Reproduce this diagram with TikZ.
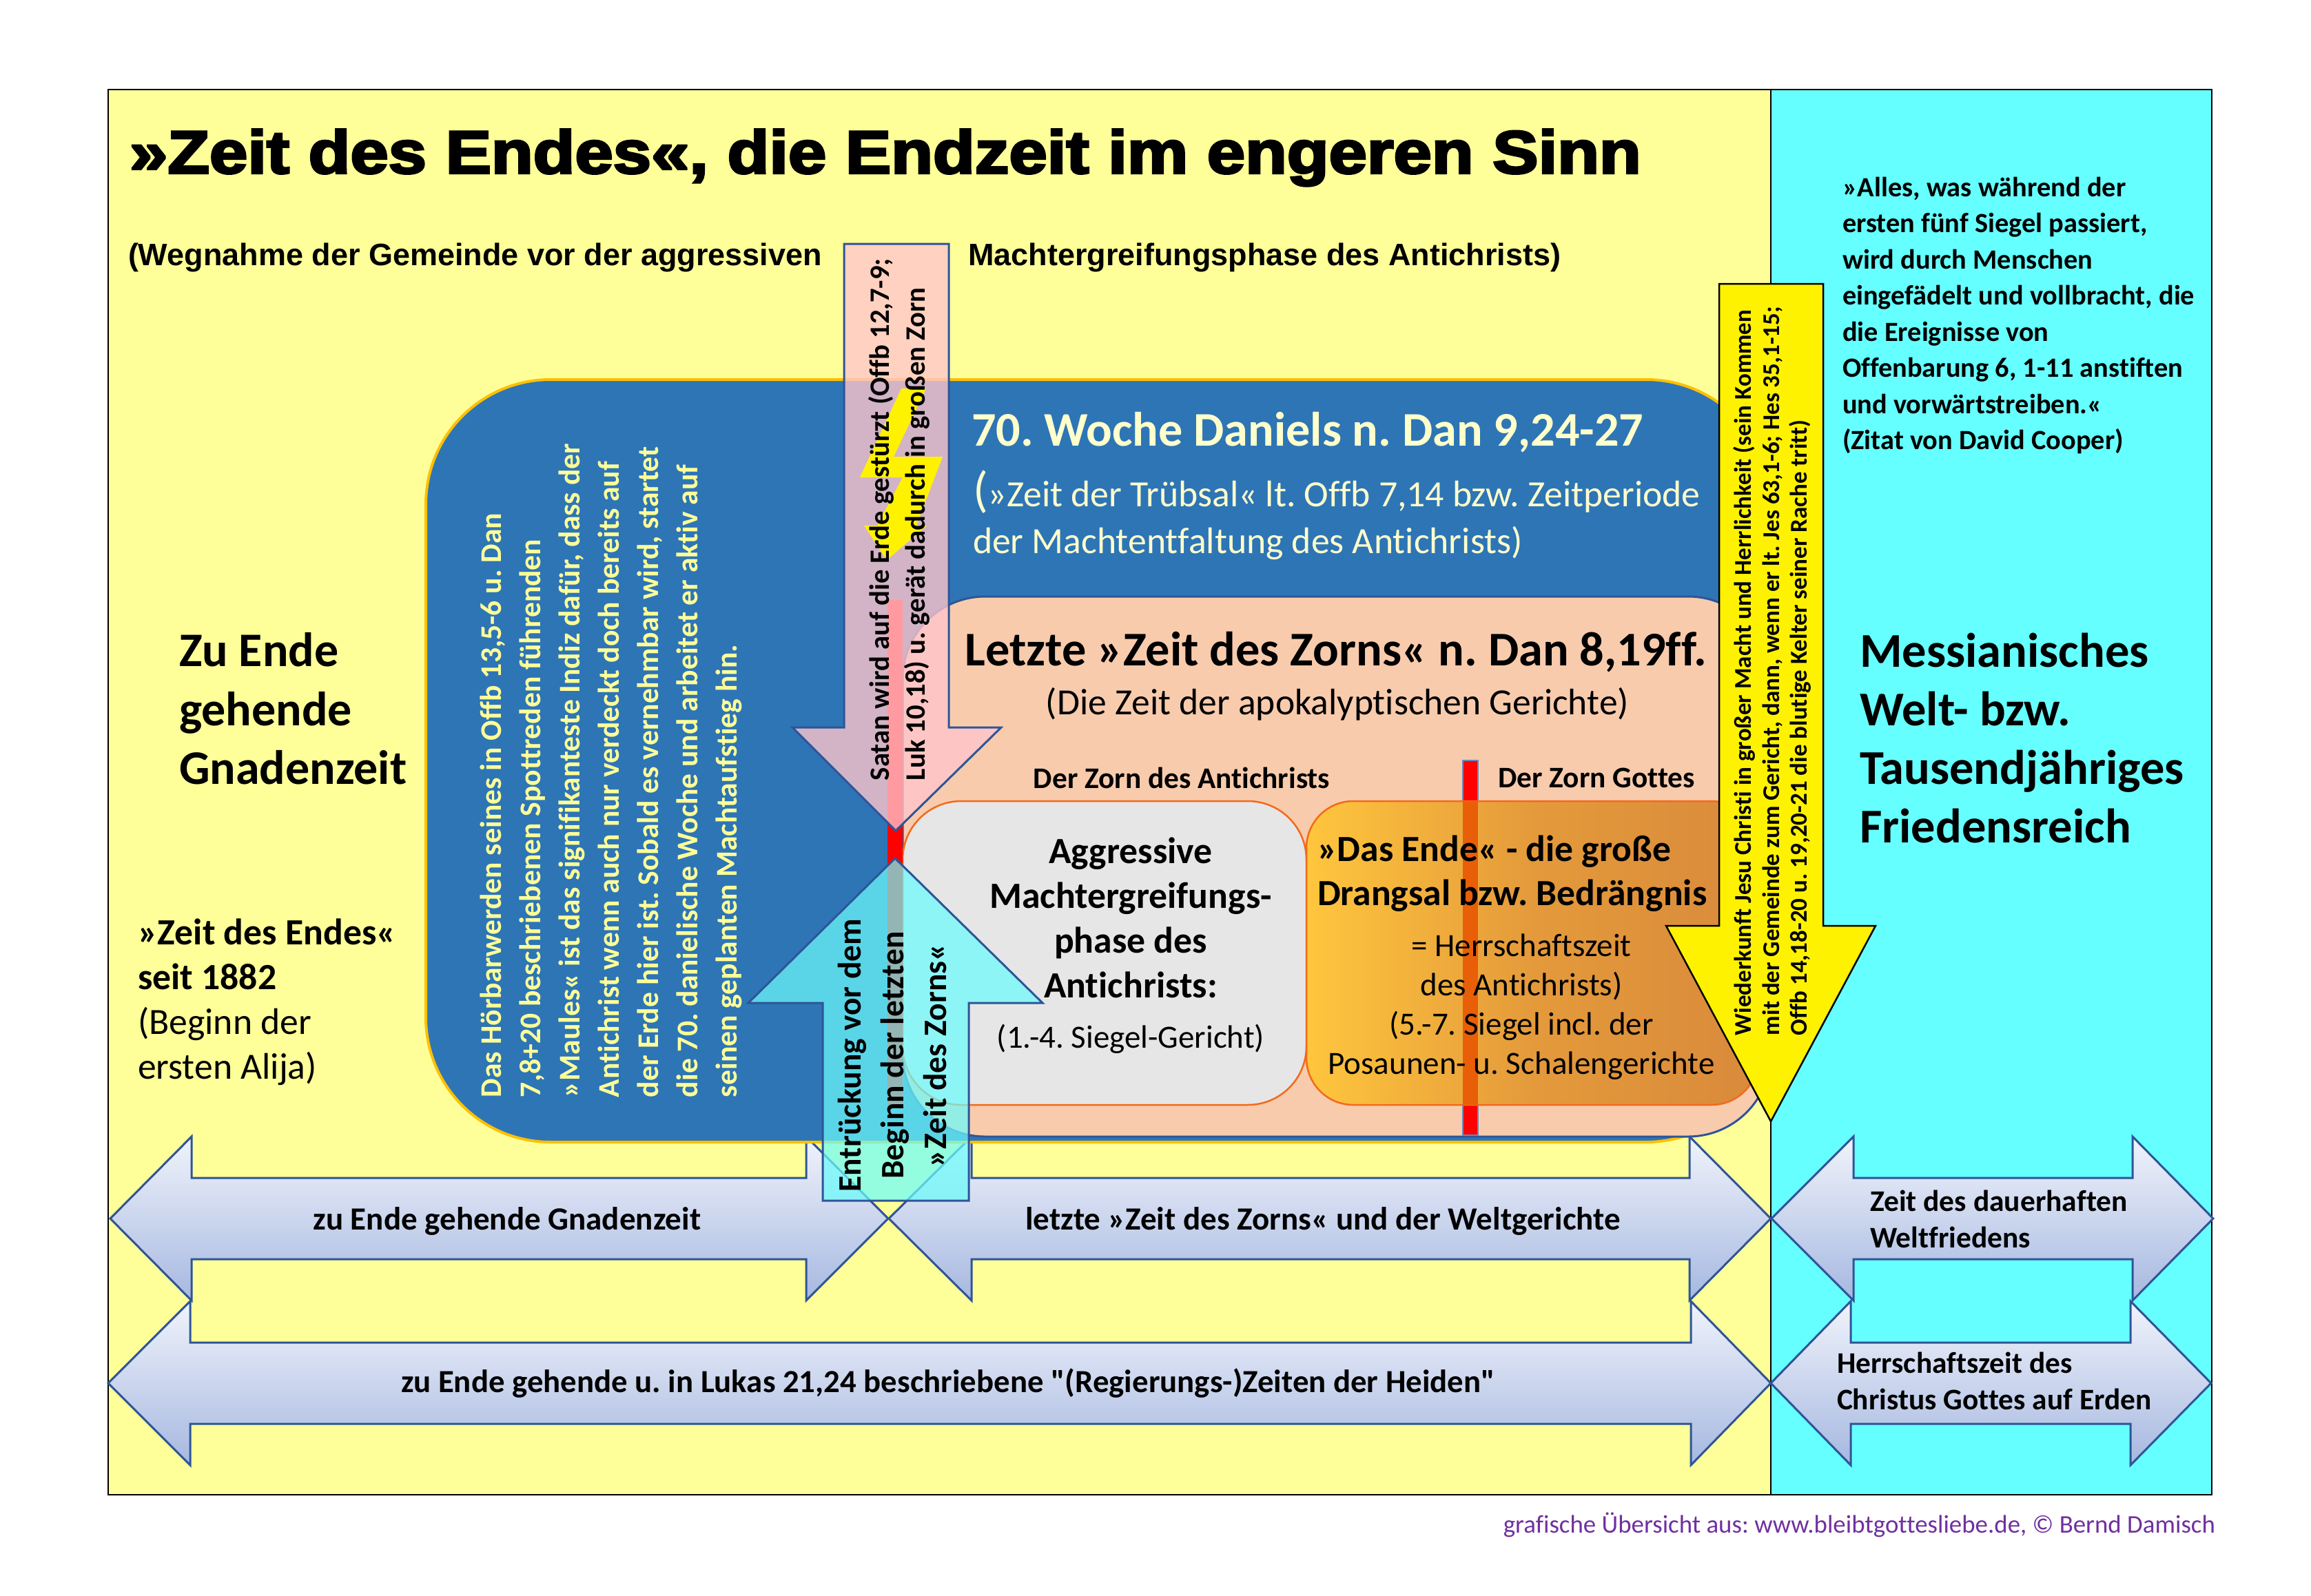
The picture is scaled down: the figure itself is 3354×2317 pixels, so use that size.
\documentclass[tikz,border=0pt]{standalone}
\usepackage{fontspec}
\setmainfont[Ligatures=NoCommon]{Carlito}
\newfontfamily\cbq[Ligatures=NoCommon]{Carlito}
\newfontfamily\blk[BoldFeatures={FakeBold=3.5}]{Liberation Sans}
\newfontfamily\arl{Liberation Sans}
\definecolor{panelY}{HTML}{FFFF99}
\definecolor{panelC}{HTML}{66FFFF}
\definecolor{blueBox}{HTML}{2E75B6}
\definecolor{rimGold}{HTML}{FFC000}
\definecolor{peach}{HTML}{F8CBAD}
\definecolor{arrowLine}{HTML}{2F5597}
\definecolor{orangeLine}{HTML}{F26A1B}
\definecolor{grayBox}{HTML}{E7E6E6}
\definecolor{paleT}{HTML}{FFFFCC}
\definecolor{footerC}{HTML}{7030A0}
\definecolor{arrowTop}{HTML}{F0F3FB}
\definecolor{arrowBot}{HTML}{A6B8E0}
\definecolor{orangeL}{HTML}{FFC63D}
\definecolor{orangeM}{HTML}{E49A3B}
\definecolor{orangeR}{HTML}{D98A3B}
\definecolor{orangeBar}{HTML}{E85F08}
\definecolor{pinkA}{HTML}{FFC5CB}
\definecolor{cyanA}{HTML}{6BFBFB}
\tikzset{
  panel/.style={draw=black,line width=2.5pt},
  harrow/.style={draw=arrowLine,line width=3pt,line join=miter,top color=arrowTop,bottom color=arrowBot},
  txt/.style={inner sep=0pt,outer sep=0pt,text=black},
  rot/.style={txt,rotate=90,anchor=west,align=left},
}
% long double arrow: l tip, r tip, cy, left base, right base
\newcommand{\dblarrow}[5]{%
  \path[harrow] (#1,#3) -- (#4,#3-119) -- (#4,#3-59) -- (#5,#3-59) -- (#5,#3-119) -- (#2,#3)
     -- (#5,#3+119) -- (#5,#3+59) -- (#4,#3+59) -- (#4,#3+119) -- cycle;}
\begin{document}
\frenchspacing
\begin{tikzpicture}[x=1pt,y=-1pt]
\useasboundingbox (0,0) rectangle (3354,2317);
\fill[white] (0,0) rectangle (3354,2317);
% panels
\path[panel,fill=panelY] (157,130) rectangle (2570,2170);
\path[panel,fill=panelC] (2570,130) rectangle (3210,2170);
% horizontal arrows
\dblarrow{160}{1289}{1769}{278}{1170}
\dblarrow{1290}{2570}{1769}{1410}{2452}
\dblarrow{157}{2570}{2008}{276}{2454}
\dblarrow{2571}{3212}{1769}{2690}{3095}
\dblarrow{2570}{3209}{2008}{2686}{3092}
% boxes
\path[draw=rimGold,line width=4pt,fill=blueBox,rounded corners=181pt] (618,551) rectangle (2570,1658);
\path[draw=arrowLine,line width=3pt,fill=peach,rounded corners=120pt] (1310,866) rectangle (2570,1650);
\path[draw=orangeLine,line width=2.5pt,fill=grayBox,rounded corners=85pt] (1310,1163) rectangle (1896,1604);
% red bars
\path[draw=none,fill=red] (1288,871) rectangle (1310,1604);
\path[draw=arrowLine!70,line width=2pt,fill=red] (2123,1104) rectangle (2145,1648);
\path[draw=orangeLine,line width=2.5pt,left color=orangeL,right color=orangeR,middle color=orangeM,rounded corners=68pt] (1896,1163) rectangle (2552,1604);
\fill[orangeBar] (2123,1163) rectangle (2145,1604);
% down arrow
\path[draw=arrowLine,line width=3pt,fill=pinkA,fill opacity=.79] (1225,354) -- (1377,354) -- (1377,1056) -- (1453,1056) -- (1300,1206) -- (1150,1056) -- (1225,1056) -- cycle;
% lightning
\fill[yellow] (1308,564) -- (1344,564) -- (1297,663) -- (1368,663) -- (1330,763) -- (1345,763) -- (1287,813) -- (1254,763) -- (1273,763) -- (1310,693) -- (1248,693) -- cycle;
% up arrow
\path[draw=arrowLine,line width=3pt,fill=cyanA,fill opacity=.72] (1299,1246) -- (1513,1456) -- (1406,1456) -- (1406,1743) -- (1194,1743) -- (1194,1456) -- (1086,1456) -- cycle;
% yellow arrow
\path[draw=black,line width=2.5pt,fill=yellow] (2495,412) -- (2646,412) -- (2646,1344) -- (2722,1344) -- (2570,1628) -- (2418,1344) -- (2495,1344) -- cycle;
% title
\node[txt,anchor=west] (title) at (188,229) {\scalebox{1.13}[1]{\blk\bfseries\fontsize{88}{100}\selectfont »Zeit des Endes«, die Endzeit im engeren Sinn}};
\node[txt,anchor=west] (sub1) at (186,374) {\arl\bfseries\fontsize{45}{54}\selectfont (Wegnahme der Gemeinde vor der aggressiven};
\node[txt,anchor=west] (sub2) at (1405,374) {\arl\bfseries\fontsize{45}{54}\selectfont Machtergreifungsphase des Antichrists)};
% left texts
\node[txt,anchor=west,align=left,font=\bfseries\fontsize{70}{85.5}\selectfont] (grace) at (260,1029) {Zu Ende\\gehende\\Gnadenzeit};
\node[txt,anchor=west,align=left,font=\fontsize{53.7}{65}\selectfont] (since) at (200,1455) {\textbf{»Zeit des Endes«}\\\textbf{seit 1882}\\(Beginn der\\ersten Alija)};
% rotated
\node[rot,text=panelY,font=\bfseries\fontsize{43.6}{57}\selectfont] (maul) at (887,1593) {Das Hörbarwerden seines in Offb 13,5-6 u. Dan\\7,8+20 beschriebenen Spottreden führenden\\»Maules« ist das signifikanteste Indiz dafür, dass der\\Antichrist wenn auch nur verdeckt doch bereits auf\\der Erde hier ist. Sobald es vernehmbar wird, startet\\die 70. danielische Woche und arbeitet er aktiv auf\\seinen geplanten Machtaufstieg hin.};
\node[rot,font=\bfseries\fontsize{40.7}{52}\selectfont] (satan) at (1305,1133) {Satan wird auf die Erde gestürzt (Offb 12,7-9;\\Luk 10,18) u. gerät dadurch in großen Zorn};
\node[txt,rotate=90,align=center,font=\bfseries\fontsize{47.5}{62}\selectfont] (rapt) at (1295,1532) {Entrückung vor dem\\Beginn der letzten\\»Zeit des Zorns«};
\node[rot,font=\bfseries\fontsize{35}{40.5}\selectfont] (comes) at (2572,1503) {Wiederkunft Jesu Christi in großer Macht und Herrlichkeit (sein Kommen\\mit der Gemeinde zum Gericht, dann, wenn er lt. Jes 63,1-6; Hes 35,1-15;\\Offb 14,18-20 u. 19,20-21 die blutige Kelter seiner Rache tritt)};
% centre
\node[txt,anchor=west,text=paleT,font=\bfseries\fontsize{70.2}{80}\selectfont] (w70) at (1410,628) {70. Woche Daniels n. Dan 9,24-27};
\node[txt,anchor=west,align=left,text=paleT,font=\fontsize{53.7}{68}\selectfont] (w70b) at (1412,748) {{\fontsize{72}{68}\selectfont(}»Zeit der Trübsal« lt. Offb 7,14 bzw. Zeitperiode\\der Machtentfaltung des Antichrists)};
\node[txt,font=\bfseries\fontsize{70.3}{80}\selectfont] (wrath) at (1939,947) {Letzte »Zeit des Zorns« n. Dan 8,19ff.};
\node[txt,font=\fontsize{53.6}{64}\selectfont] (wrathb) at (1941,1022) {(Die Zeit der apokalyptischen Gerichte)};
\node[txt,font=\bfseries\fontsize{43.4}{50}\selectfont] (zA) at (1715,1129) {Der Zorn des Antichrists};
\node[txt,font=\bfseries\fontsize{43.4}{50}\selectfont] (zG) at (2317,1129) {Der Zorn Gottes};
\node[txt,align=center,font=\bfseries\fontsize{53.7}{65}\selectfont] (aggr) at (1641,1332) {Aggressive\\Machtergreifungs-\\phase des\\Antichrists:};
\node[txt,font=\fontsize{47}{55}\selectfont] (seal1) at (1641,1508) {(1.-4. Siegel-Gericht)};
\node[txt,anchor=west,align=left,font=\bfseries\fontsize{53.6}{64}\selectfont] (endH) at (1912,1268) {»Das Ende« - die große\\Drangsal bzw. Bedrängnis};
\node[txt,align=center,font=\fontsize{47}{57}\selectfont] (endB) at (2208,1462) {= Herrschaftszeit\\des Antichrists)\\(5.-7. Siegel incl. der\\Posaunen- u. Schalengerichte};
% arrow labels
\node[txt,font=\bfseries\fontsize{47}{55}\selectfont] (a1) at (736,1773) {zu Ende gehende Gnadenzeit};
\node[txt,font=\bfseries\fontsize{47}{55}\selectfont] (a2) at (1920,1773) {letzte »Zeit des Zorns« und der Weltgerichte};
\node[txt,font=\bfseries\fontsize{46.8}{55}\selectfont] (a3) at (1376,2008) {zu Ende gehende u. in Lukas 21,24 beschriebene {\cbq "}(Regierungs-)Zeiten der Heiden{\cbq "}};
\node[txt,anchor=west,align=left,font=\bfseries\fontsize{43.5}{53}\selectfont] (a4) at (2714,1770) {Zeit des dauerhaften\\Weltfriedens};
\node[txt,anchor=west,align=left,font=\bfseries\fontsize{43.4}{53}\selectfont] (a5) at (2666,2005) {Herrschaftszeit des\\Christus Gottes auf Erden};
% right panel
\node[txt,anchor=west,align=left,font=\bfseries\fontsize{40.4}{52.5}\selectfont] (quote) at (2674,458) {»Alles, was während der\\ersten fünf Siegel passiert,\\wird durch Menschen\\eingefädelt und vollbracht, die\\die Ereignisse von\\Offenbarung 6, 1-11 anstiften\\und vorwärtstreiben.«\\(Zitat von David Cooper)};
\node[txt,anchor=west,align=left,font=\bfseries\fontsize{70.5}{85}\selectfont] (mess) at (2699,1072) {Messianisches\\Welt- bzw.\\Tausendjähriges\\Friedensreich};
\node[txt,anchor=east,text=footerC,font=\fontsize{36.9}{46}\selectfont] (foot) at (3215,2214) {grafische Übersicht aus: www.bleibtgottesliebe.de, © Bernd Damisch};
\end{tikzpicture}
\end{document}
